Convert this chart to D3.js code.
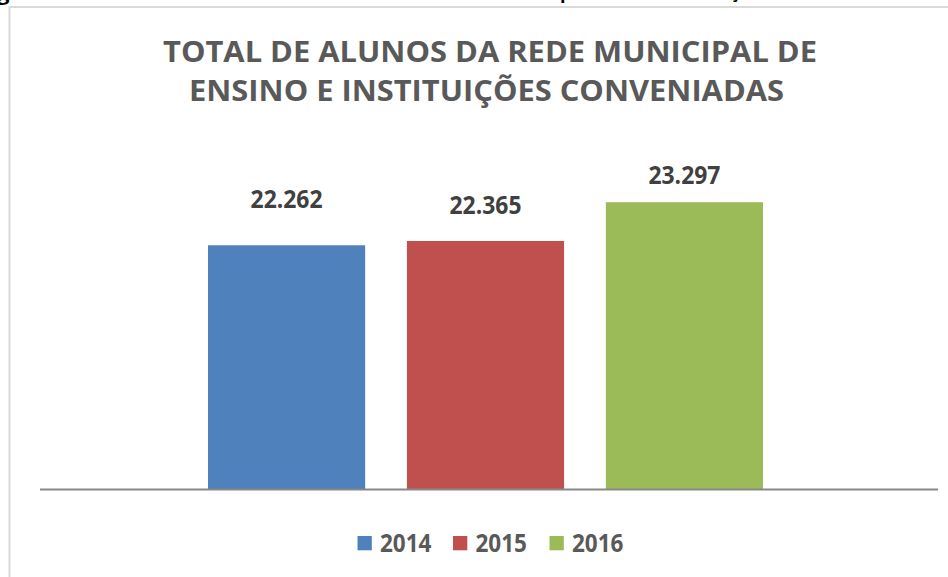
<!DOCTYPE html>
<html>
<head>
<meta charset="utf-8">
<script src="https://cdn.jsdelivr.net/npm/d3@7"></script>
<style>
  html, body { margin: 0; padding: 0; background: #fff; }
  svg { display: block; }
  text { font-family: "Open Sans", "Noto Sans", sans-serif; font-weight: bold; }
</style>
</head>
<body>
<svg id="chart" width="948" height="577"></svg>
<script>
// ---- data ----
const categories = ["2014", "2015", "2016"];
const values = [22262, 22365, 23297];
const valueLabels = ["22.262", "22.365", "23.297"];
const colors = ["#4f81bd", "#c0504d", "#9bbb59"];
const titleLines = ["TOTAL DE ALUNOS DA REDE MUNICIPAL DE", "ENSINO E INSTITUIÇÕES CONVENIADAS"];
const yDomain = [16400, 24000];

// ---- layout ----
const W = 948, H = 577;
const baseY = 489, topY = 173;
const labelGap = [37, 27, 18];

const svg = d3.select("#chart");

// fragment of caption text cut off above the chart
svg.append("text").attr("x", -3).attr("y", 0).attr("font-size", 22).attr("fill", "#000").text("g");
svg.append("text").attr("x", 560).attr("y", -1).attr("font-size", 18).attr("fill", "#000").attr("font-weight", "normal").text("p");
svg.append("text").attr("x", 730).attr("y", -2).attr("font-size", 18).attr("fill", "#000").attr("font-weight", "normal").text("ç");

// chart area border
svg.append("rect")
  .attr("x", 9.5).attr("y", 7)
  .attr("width", W + 20).attr("height", H + 20)
  .attr("fill", "none").attr("stroke", "#d9d9d9").attr("stroke-width", 2);

const x = d3.scaleBand().domain(categories).range([208, 763]).paddingInner(0.21).paddingOuter(0);
const y = d3.scaleLinear().domain(yDomain).range([baseY, topY]);

function fit(sel, width) {
  sel.attr("textLength", width).attr("lengthAdjust", "spacingAndGlyphs");
}

// title
const titleY = [61.5, 100.5];
const titleW = [654, 595];
const titleCX = [490, 486.5];
titleLines.forEach((t, i) => {
  svg.append("text")
    .attr("x", titleCX[i]).attr("y", titleY[i])
    .attr("text-anchor", "middle")
    .attr("font-size", 29)
    .attr("fill", "#595959")
    .text(t)
    .call(fit, titleW[i]);
});

// bars
svg.selectAll("rect.bar").data(values).join("rect")
  .attr("class", "bar")
  .attr("x", (d, i) => x(categories[i]))
  .attr("width", x.bandwidth())
  .attr("y", d => y(d))
  .attr("height", d => baseY - y(d))
  .attr("fill", (d, i) => colors[i]);

// axis line
const axis = d3.axisBottom(x).tickSize(0).tickFormat("");
const ax = svg.append("g").attr("transform", `translate(0,${baseY})`).call(axis);
ax.select(".domain").remove();
ax.append("line").attr("x1", 40).attr("x2", 938).attr("y1", 0.5).attr("y2", 0.5)
  .attr("stroke", "#888").attr("stroke-width", 2);

// value labels
svg.selectAll("text.val").data(values).join("text")
  .attr("class", "val")
  .attr("x", (d, i) => x(categories[i]) + x.bandwidth() / 2)
  .attr("y", (d, i) => y(d) - labelGap[i])
  .attr("text-anchor", "middle")
  .attr("font-size", 24.5)
  .attr("fill", "#404040")
  .text((d, i) => valueLabels[i])
  .call(fit, 72);

// legend
const legendX = [357.5, 453, 549.5];
const lg = svg.append("g");
categories.forEach((c, i) => {
  lg.append("rect").attr("x", legendX[i]).attr("y", 536).attr("width", 14.3).attr("height", 14.3).attr("fill", colors[i]);
  lg.append("text").attr("x", legendX[i] + 22.5).attr("y", 551.5)
    .attr("font-size", 24.5).attr("fill", "#595959").text(c).call(fit, 51.5);
});
</script>
</body>
</html>
